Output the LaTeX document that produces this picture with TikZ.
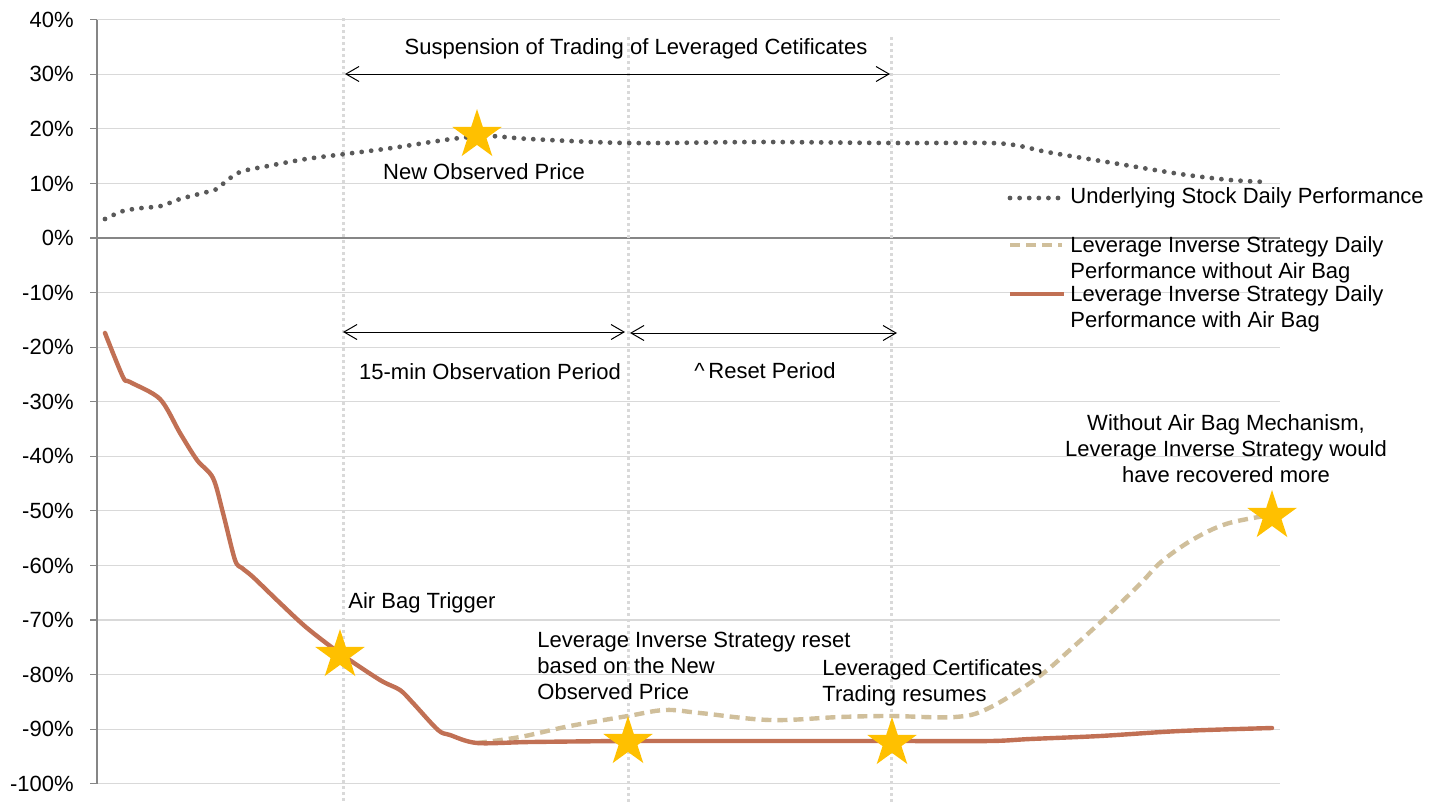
\documentclass[tikz,border=0pt]{standalone}
\usepackage{fontspec}
\setmainfont{Liberation Sans}
\usepackage{xcolor}
\usepackage{tikz}
\usetikzlibrary{shapes.geometric,arrows.meta,positioning}

\definecolor{gridgray}{RGB}{217,217,217}
\definecolor{axisgray}{RGB}{134,134,134}
\definecolor{stockgray}{RGB}{89,89,89}
\definecolor{withbagred}{RGB}{193,112,84}
\definecolor{nobagtan}{RGB}{208,191,155}
\definecolor{stargold}{RGB}{255,192,0}

\begin{document}
\begin{tikzpicture}[
		x=0.5pt, y=-0.5pt,
		node distance=4pt,
		font=\fontsize{11}{13}\selectfont,
		grid/.style={gridgray, line width=0.6pt},
		marker/.style={gray!30, line width=1.5pt, dash pattern=on 1.5pt off 1.5pt},
		span/.style={<->, >={Straight Barb[length=6.5pt,width=7.5pt]}, line width=0.5pt},
		stock/.style={stockgray, line width=2.4pt, line cap=round, dash pattern=on 0pt off 4.8pt},
		withbag/.style={withbagred, line width=2.2pt, line cap=round, line join=round},
		nobag/.style={nobagtan, line width=2.2pt, dash pattern=on 5pt off 3pt},
		goldstar/.style={star, star points=5, star point ratio=2.618, fill=stargold, minimum size=26pt, inner sep=0pt},
		note/.style={align=left, inner sep=0pt}
		]
		
		\useasboundingbox (0,0) rectangle (1438,803);
		
		% Axis and grid
		\foreach \v in {40,30,...,-100} {
			\draw[grid] (97,{238-5.457*\v}) -- (1280,{238-5.457*\v});
			\draw[axisgray, line width=0.6pt] (90,{238-5.457*\v}) -- (97,{238-5.457*\v});
			\node[anchor=east, inner sep=0pt] (tick\v) at (74,{238-5.457*\v}) {\v\%};
		}
		\draw[axisgray, line width=0.6pt] (97,238) -- (1280,238);
		\draw[axisgray, line width=0.6pt] (97,20) -- (97,784);
		
		% Time markers
		\draw[marker] (343,18) -- (343,803);
		\draw[marker] (628,37) -- (628,803);
		\draw[marker] (891,37) -- (891,803);
		
		% Series
		\draw[nobag] plot[smooth, tension=0.6] coordinates {(477,743) (520,737) (570,726) (628,716) (665,710) (700,713) (770,720) (840,717) (890,716) (955,717) (989,708) (1037,678) (1072,648) (1106,617) (1141,583) (1161,562) (1192,540) (1226,524) (1265,516)};
		\draw[withbag] plot[smooth, tension=0.5] coordinates {(105,333) (123,377) (130,382) (160,399) (180,433) (197,460) (213,478) (223,513) (235,560) (242,568) (253,577) (280,603) (307,628) (341,654) (380,680) (400,690) (413,703) (438,730) (450,735) (477,743) (530,742) (628,741) (760,741) (890,741) (990,741) (1030,739) (1100,736) (1180,731) (1272,728)};
		\draw[stock] plot[smooth, tension=0.5] coordinates {(105,219) (123,211) (142,208) (161,206) (180,199) (207,192) (217,189) (224,183) (240,172) (268,166) (306,159) (345,154) (392,148) (431,142) (460,138) (490,136) (530,139) (628,143) (760,142) (890,143) (990,143) (1020,146) (1047,152) (1113,163) (1180,174) (1230,180) (1268,182)};
		
		% Stars
		\node[goldstar] (newprice) at (477,135) {};
		\node[goldstar] (trigger) at (340,655) {};
		\node[goldstar] (reset) at (628,742) {};
		\node[goldstar] (resume) at (892,743) {};
		\node[goldstar] (recover) at (1272,516) {};
		
		% Periods
		\coordinate (suspL) at (345,74);
		\coordinate (suspR) at (890,74);
		\coordinate (obsL) at (343,332);
		\coordinate (obsR) at (625,332);
		\coordinate (resL) at (630,333);
		\coordinate (resR) at (897,333);
		\draw[span] (suspL) -- (suspR);
		\draw[span] (obsL) -- (obsR);
		\draw[span] (resL) -- (resR);
		
		% Labels
		\node (susptext) at (636,49) {Suspension of Trading of Leveraged Cetificates};
		\node (obstext) at (490,372) {15-min Observation Period};
		\node (restext) at (765,371) {\textasciicircum\,Reset Period};
		\node (pricetext) at (484,172) {New Observed Price};
		\node[note, anchor=west] (triggertext) at (348,603) {Air Bag Trigger};
		\node[note, anchor=west] (resettext) at (537,666) {Leverage Inverse Strategy reset\\based on the New\\Observed Price};
		\node[note, anchor=west] (resumetext) at (822,683) {Leveraged Certificates\\Trading resumes};
		\node[align=center, inner sep=0pt] (recovertext) at (1226,449) {Without Air Bag Mechanism,\\Leverage Inverse Strategy would\\have recovered more};
		
		% Legend
		\coordinate (legA1) at (1010,198);
		\coordinate (legA2) at (1062,198);
		\coordinate (legB1) at (1010,245);
		\coordinate (legB2) at (1062,245);
		\coordinate (legC1) at (1010,294);
		\coordinate (legC2) at (1064,294);
		\draw[stock] (legA1) -- (legA2);
		\draw[nobag] (legB1) -- (legB2);
		\draw[withbag, line cap=butt] (legC1) -- (legC2);
		\node[note, anchor=west, right=of legA2] (legAtext) {Underlying Stock Daily Performance};
		\node[note, anchor=north west] (legBtext) at ([xshift=4pt, yshift=4.5pt]legB2) {Leverage Inverse Strategy Daily\\Performance without Air Bag};
		\node[note, anchor=north west] (legCtext) at ([xshift=3pt, yshift=4.5pt]legC2) {Leverage Inverse Strategy Daily\\Performance with Air Bag};
		
	\end{tikzpicture}
\end{document}
